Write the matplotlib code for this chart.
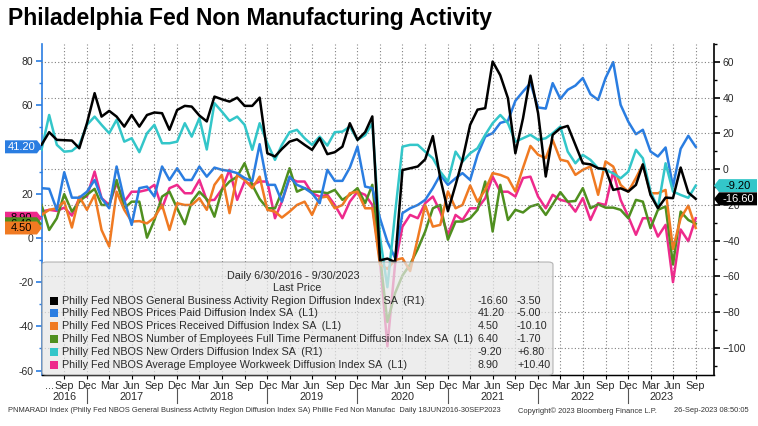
import matplotlib
matplotlib.use('Agg')
import matplotlib.pyplot as plt
import matplotlib.transforms as mtransforms
from matplotlib.patches import Polygon, FancyBboxPatch, Rectangle
import numpy as np
import pandas as pd

plt.rcParams['font.family'] = ['Liberation Sans', 'DejaVu Sans']

# monthly readings, Jun 2016 .. Sep 2023
dates = pd.date_range('2016-06-30', '2023-09-30', freq='ME')

general_activity = [13.6, 20.7, 16.4, 16.2, 16.0, 11.7, 25.7, 42.5, 29.4, 32.6, 29.4, 23.8, 30.3, 23.8, 30.3, 31.7,
                    31.3, 22.0, 33.1, 35.4, 35.0, 30.0, 26.7, 40.6, 39.1, 37.8, 40.0, 35.4, 35.4, 40.0, 8.9, 7.1,
                    11.3, 15.4, 16.7, 13.6, 10.8, 17.3, 8.4, 9.5, 12.6, 25.7, 16.4, 20.7, 29.5, -51.0, -50.0, -52.0,
                    -0.5, 0.5, 1.5, 5.5, 18.5, -5.0, -23.5, -8.8, 5.2, 24.8, 33.3, 34.1, 60.2, 52.5, 39.7, 8.9,
                    28.5, 52.3, 31.3, -4.1, 19.2, 22.9, 24.2, 13.6, 3.3, 2.7, 0.5, 0.1, -11.6, -10.7, -12.5, -8.8,
                    2.7, -14.4, -21.8, -15.9, -16.2, 0.9, -13.1, -16.6]
prices_paid = [22.5, 22.2, 12.7, 29.7, 18.2, 18.2, 20.9, 26.2, 18.0, 13.4, 32.3, 17.2, 5.9, 22.5, 23.2, 18.7,
               32.3, 26.2, 31.5, 26.2, 26.2, 32.3, 27.7, 31.8, 30.8, 30.3, 29.3, 27.1, 25.7, 42.4, 24.0, 24.0,
               16.4, 27.7, 24.0, 22.5, 20.2, 15.7, 30.8, 25.8, 25.8, 31.8, 41.3, 23.2, 22.5, 8.9, -1.7, -9.0,
               11.2, 13.4, 14.9, 17.2, 22.5, 28.5, 24.0, 27.0, 29.3, 26.2, 37.6, 45.8, 47.4, 52.0, 53.0, 62.0,
               66.2, 70.0, 59.0, 58.5, 70.0, 62.9, 67.0, 68.9, 72.3, 65.0, 62.4, 72.3, 79.5, 60.2, 52.6, 46.9,
               48.9, 39.1, 36.8, 40.9, 23.2, 40.3, 46.2, 41.2]
prices_received = [10.4, 12.7, 13.4, 16.4, 4.7, 18.7, 12.7, 19.5, 3.6, -3.9, 20.9, 12.7, 7.4, 7.6, 6.6, 9.2,
                   14.9, 3.6, 15.7, 14.9, 14.9, 18.0, 12.7, 24.0, 28.5, 11.2, 28.5, 26.2, 22.5, 27.7, 12.7, 11.9,
                   9.2, 11.9, 14.9, 16.4, 10.4, 18.2, 18.7, 13.4, 14.9, 20.2, 20.9, 13.4, 13.4, -12.0, -14.0, -10.0,
                   -9.2, -15.0, -0.2, 14.9, 5.1, 5.9, 21.0, 13.4, 14.9, 23.7, 16.4, 21.7, 29.3, 28.5, 27.1, 21.0,
                   31.7, 41.6, 37.6, 36.1, 44.3, 35.4, 34.6, 28.5, 30.8, 32.3, 19.5, 34.6, 32.3, 24.0, 20.9, 27.1,
                   33.2, 20.2, 20.2, 21.7, -5.0, 8.9, 14.6, 4.5]
employees = [14.9, 3.6, 8.9, 19.8, 11.9, 16.4, 19.5, 22.2, 14.9, 14.9, 26.2, 13.4, 16.4, 16.4, 0.1, 8.1,
             18.7, 20.9, 13.4, 6.2, 16.4, 20.9, 17.5, 9.6, 21.7, 25.5, 27.7, 33.8, 24.0, 17.6, 13.4, 13.4,
             20.9, 31.5, 20.9, 22.5, 20.9, 20.9, 20.2, 21.7, 17.2, 19.5, 22.5, 15.7, 24.0, -8.0, -38.0, -25.0,
             -17.0, -12.0, -5.0, 2.9, 13.4, 14.9, -0.8, 7.4, 7.4, 8.9, 12.7, 25.5, 2.9, 24.0, 8.1, 12.7,
             11.5, 14.2, 15.2, 10.4, 15.2, 20.7, 16.4, 16.7, 22.5, 13.4, 15.2, 13.7, 13.7, 12.7, 8.9, 17.2,
             16.4, 4.4, 12.7, 14.2, -12.0, 11.9, 8.1, 6.4]
new_orders = [10.8, 30.3, 13.6, 9.8, 10.2, 13.6, 24.8, 29.4, 24.8, 20.1, 27.6, 15.4, 17.3, 9.5, 20.1, 24.8,
              14.5, 14.5, 15.4, 25.7, 18.2, 28.5, 11.0, 36.9, 32.2, 27.0, 29.4, 24.8, 10.8, 25.7, 14.5, 5.2,
              13.6, 20.7, 22.0, 17.3, 13.6, 18.2, 13.2, 20.7, 21.0, 23.8, 16.4, 19.0, 25.7, -38.0, -66.0, -25.0,
              12.6, 13.6, 13.6, 9.8, 6.1, -1.4, -6.9, 9.8, 4.2, 8.9, 11.7, 19.2, 25.7, 30.3, 25.7, 15.4,
              17.3, 19.2, 16.4, 17.3, 20.1, 23.8, 9.8, 3.3, 8.0, 5.2, 0.5, -0.4, -2.3, -5.1, -1.4, 10.8,
              6.1, -12.5, -21.8, 3.3, -12.5, -14.4, -16.0, -9.2]
workweek = [11.9, 12.7, 12.2, 13.7, 10.1, 18.0, 18.7, 30.0, 18.0, 14.9, 24.7, 16.4, 20.9, 20.9, 21.7, 24.0,
            13.4, 22.5, 24.0, 20.2, 20.2, 26.2, 17.0, 17.2, 22.0, 30.8, 17.2, 25.5, 24.0, 25.5, 25.5, 8.9,
            16.4, 27.0, 25.5, 25.5, 20.2, 18.7, 19.5, 14.9, 8.9, 16.4, 20.9, 19.5, 14.9, -10.0, -49.0, -12.0,
            5.1, 10.4, 8.9, 15.7, 18.7, 11.9, 1.4, 10.4, 8.1, 13.4, 13.4, 17.9, 27.7, 20.9, 20.9, 18.7,
            27.1, 27.7, 18.7, 13.4, 19.5, 17.2, 16.4, 11.9, 18.0, 8.1, 15.7, 14.9, 30.0, 17.2, 9.7, 1.4,
            8.9, 8.9, 0.6, 5.9, -20.0, 3.8, -1.5, 8.9]

names = ['Philly Fed NBOS General Business Activity Region Diffusion Index SA  (R1)',
         'Philly Fed NBOS Prices Paid Diffusion Index SA  (L1)',
         'Philly Fed NBOS Prices Received Diffusion Index SA  (L1)',
         'Philly Fed NBOS Number of Employees Full Time Permanent Diffusion Index SA  (L1)',
         'Philly Fed NBOS New Orders Diffusion Index SA  (R1)',
         'Philly Fed NBOS Average Employee Workweek Diffusion Index SA  (L1)']
series = [general_activity, prices_paid, prices_received, employees, new_orders, workweek]
colors = ['#000000', '#2a7de1', '#f07a22', '#4f8f1f', '#33c6c9', '#ee2a8c']
on_right = [True, False, False, False, True, False]

W, H = 758, 426
BLUE = colors[1]
TXT = '#2a2a2a'
LEG_FS = 7.75
FOOT_FS = 5.4


def fx(x):
    return x / W


def fy(y):
    return 1 - y / H


fig = plt.figure(figsize=(W / 100, H / 100), dpi=100)
ax = fig.add_axes([fx(41.5), fy(375), fx(714) - fx(41.5), fy(44) - fy(375)])
ax2 = ax.twinx()

# left series first, then the R1 ones on the twin axis
for s, c, r in zip(series[::-1], colors[::-1], on_right[::-1]):
    if not r:
        ax.plot(dates, s, color=c, lw=1.8, zorder=3)
for s, c, r in zip(series[::-1], colors[::-1], on_right[::-1]):
    if r:
        ax2.plot(dates, s, color=c, lw=1.8, zorder=3)

ax.set_xlim(dates[0], pd.Timestamp('2023-12-13'))
ax.set_ylim(-62, 87.7)
ax2.set_ylim(-115.1, 70)

left_ticks = np.arange(-60, 81, 20)
ax.set_yticks(left_ticks)
# the 40 label sits under the Prices Paid tag, so it is left blank
ax.set_yticklabels(['' if v == 40 else str(v) for v in left_ticks])
ax.set_yticks(np.arange(-60, 81, 10), minor=True)
ax2.set_yticks(np.arange(-100, 61, 20))
ax2.set_yticks(np.arange(-110, 71, 10), minor=True)

ticks = dates[3::3]
ax.set_xticks(ticks)
ax.set_xticklabels([d.strftime('%b') for d in ticks])

for a in (ax, ax2):
    a.spines['top'].set_visible(False)
ax.spines['right'].set_visible(False)
ax2.spines['left'].set_visible(False)
ax.spines['left'].set_color(BLUE)
ax.spines['left'].set_linewidth(1.2)
ax2.spines['right'].set_linewidth(1.2)
ax.spines['bottom'].set_linewidth(1.0)

ax.tick_params(axis='y', which='both', colors=BLUE, labelcolor=TXT, labelsize=7.5, pad=2)
ax.tick_params(axis='y', which='major', length=4, width=1.2)
ax.tick_params(axis='y', which='minor', length=2, width=1)
ax2.tick_params(axis='y', which='both', colors='black', labelcolor=TXT, labelsize=7.5, pad=2)
ax2.tick_params(axis='y', which='major', length=4, width=1.2)
ax2.tick_params(axis='y', which='minor', length=2, width=1)
ax.tick_params(axis='x', length=3, labelsize=7.8, labelcolor=TXT, pad=1)

ax.grid(axis='x', ls=(0, (1, 2)), color='#808080', lw=0.8)
ax2.grid(axis='y', ls=(0, (1, 2)), color='#808080', lw=0.8, zorder=0)
ax.set_axisbelow(True)

# x axis year row
xt = ax.get_xaxis_transform()
ax.text(dates[1], -0.018, '...', transform=xt, ha='center', va='top', fontsize=7.8, color=TXT)
year_pos = [pd.Timestamp('2016-09-30')] + [pd.Timestamp(f'{y}-06-30') for y in range(2017, 2023)] + [pd.Timestamp('2023-05-15')]
year_txt = [str(y) for y in range(2016, 2024)]
for p, t in zip(year_pos, year_txt):
    ax.text(p, -0.066, t, transform=xt, ha='center', va='center', fontsize=7.8, color=TXT)
for y in range(2016, 2023):
    d = pd.Timestamp(f'{y}-12-31')
    ax.plot([d, d], [-0.04, -0.085], transform=xt, color='#555555', lw=0.8, clip_on=False)

# legend panel, translucent over the lines
panel = FancyBboxPatch((fx(42), fy(375)), fx(553) - fx(42), fy(262) - fy(375),
                       boxstyle='round,pad=0,rounding_size=0.006', transform=fig.transFigure,
                       fc='#e6e6e6', ec='#9a9a9a', lw=0.8, alpha=0.72, zorder=5)
fig.add_artist(panel)
fig.text(fx(227), fy(276), 'Daily 6/30/2016 - 9/30/2023', fontsize=LEG_FS, va='center', color=TXT, zorder=6)
fig.text(fx(273), fy(288), 'Last Price', fontsize=LEG_FS, va='center', color=TXT, zorder=6)
for k, (nm, s, c) in enumerate(zip(names, series, colors)):
    yy = 300.5 + k * 12.8
    fig.add_artist(Rectangle((fx(50), fy(yy + 4)), fx(8), 8 / H, transform=fig.transFigure,
                             fc=c, ec='none', zorder=6))
    fig.text(fx(62), fy(yy), nm, fontsize=LEG_FS, va='center', color=TXT, zorder=6)
    fig.text(fx(478), fy(yy), f'{s[-1]:.2f}', fontsize=LEG_FS, va='center', color=TXT, zorder=6)
    fig.text(fx(517), fy(yy), f'{s[-1] - s[-2]:+.2f}', fontsize=LEG_FS, va='center', color=TXT, zorder=6)

# last value tags at the axes
fig.canvas.draw()
left_tr = mtransforms.blended_transform_factory(ax.transAxes, ax.transData)
right_tr = mtransforms.blended_transform_factory(ax2.transAxes, ax2.transData)


def tag(y_disp, text, fc, tc, side, z):
    h = 6.5
    if side == 'left':
        xa, x0 = 42, 5
        verts = [(x0, y_disp - h), (xa - 5, y_disp - h), (xa, y_disp), (xa - 5, y_disp + h), (x0, y_disp + h)]
        tx = (x0 + xa - 4) / 2
    else:
        xa, x1 = 714, 757
        verts = [(xa, y_disp), (xa + 5, y_disp - h), (x1, y_disp - h), (x1, y_disp + h), (xa + 5, y_disp + h)]
        tx = (xa + 5 + x1) / 2
    fig.add_artist(Polygon(verts, closed=True, fc=fc, ec='none', transform=mtransforms.IdentityTransform(),
                           zorder=z))
    fig.text(tx / W, y_disp / H, text, fontsize=8, ha='center', va='center', color=tc, zorder=z + 0.5)


for k, (idx, tc) in enumerate([(5, 'black'), (3, 'black'), (2, 'black'), (1, 'white')]):
    yd = left_tr.transform((0, series[idx][-1]))[1]
    tag(yd, f'{series[idx][-1]:.2f}', colors[idx], tc, 'left', 7 + k)
for k, (idx, tc) in enumerate([(4, 'black'), (0, 'white')]):
    yd = right_tr.transform((1, series[idx][-1]))[1]
    tag(yd, f'{series[idx][-1]:.2f}', colors[idx], tc, 'right', 7 + k)

fig.text(fx(8), fy(19), 'Philadelphia Fed Non Manufacturing Activity', fontsize=16.5, fontweight='bold',
         va='center', color='black')
fig.text(fx(8), fy(411), 'PNMARADI Index (Philly Fed NBOS General Business Activity Region Diffusion Index SA) '
         'Phillie Fed Non Manufac  Daily 18JUN2016-30SEP2023', fontsize=FOOT_FS, va='center', color='#333333')
fig.text(fx(518), fy(411), 'Copyright\u00a9 2023 Bloomberg Finance L.P.', fontsize=FOOT_FS, va='center',
         color='#333333')
fig.text(fx(674), fy(411), '26-Sep-2023 08:50:05', fontsize=FOOT_FS, va='center', color='#333333')

fig.savefig('out.png', dpi=100)
